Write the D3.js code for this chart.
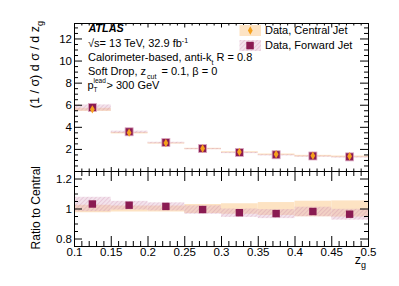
<!DOCTYPE html>
<html><head><meta charset="utf-8">
<script src="https://cdn.jsdelivr.net/npm/d3@7"></script>
<style>
body{margin:0;background:#fff;}
svg{display:block;font-family:"Liberation Sans",Arial,Helvetica,sans-serif;}
</style></head>
<body>
<script>
// ---- data ----
const binLow  = [0.10,0.15,0.20,0.25,0.30,0.35,0.40,0.45];
const binHigh = [0.15,0.20,0.25,0.30,0.35,0.40,0.45,0.50];
const centralValues = [5.58,3.47,2.54,2.04,1.73,1.52,1.39,1.33];
const forwardValues = [5.75,3.55,2.58,2.03,1.68,1.47,1.36,1.28];
const centralRelUnc = [0.025,0.020,0.020,0.030,0.035,0.043,0.052,0.054];
const forwardRatio  = [1.030,1.022,1.014,0.993,0.972,0.966,0.980,0.962];
const forwardRatioUnc = [0.048,0.029,0.027,0.028,0.028,0.030,0.032,0.036];
const mainYTicks = [2,4,6,8,10,12];
const ratioYTicks = [0.8,1,1.2];
const xTicks = [0.1,0.15,0.2,0.25,0.3,0.35,0.4,0.45,0.5];
const xTickLabels = ["0.1","0.15","0.2","0.25","0.3","0.35","0.4","0.45","0.5"];
const legendLabels = ["Data, Central Jet","Data, Forward Jet"];

const W=399,H=286;
const C_SQ="#8a1b52", C_DIA="#f5a11c", C_PEACH="#fde3c3";
const svg=d3.select("body").append("svg").attr("width",W).attr("height",H);
const defs=svg.append("defs");
const pat=defs.append("pattern").attr("id","hatch").attr("patternUnits","userSpaceOnUse")
  .attr("width",3).attr("height",3).attr("patternTransform","rotate(45)");
pat.append("rect").attr("width",3).attr("height",3).attr("fill","rgba(222,175,200,0.35)");
pat.append("line").attr("x1",0).attr("y1",0).attr("x2",0).attr("y2",3)
  .attr("stroke","rgba(195,115,155,0.45)").attr("stroke-width",1);

const x=d3.scaleLinear().domain([0.1,0.5]).range([74,368]);
const yM=d3.scaleLinear().domain([0,13.4]).range([171,23]);
const yR=d3.scaleLinear().domain([0.75,1.25]).range([246,171]);

const idx=d3.range(binLow.length);
const mid=i=>(binLow[i]+binHigh[i])/2;

// ---- main panel bands ----
const gM=svg.append("g");
gM.selectAll("rect.cb").data(idx).join("rect")
  .attr("x",i=>x(binLow[i])).attr("width",i=>x(binHigh[i])-x(binLow[i]))
  .attr("y",i=>yM(centralValues[i]*(1+centralRelUnc[i])))
  .attr("height",i=>Math.max(1.2,yM(centralValues[i]*(1-centralRelUnc[i]))-yM(centralValues[i]*(1+centralRelUnc[i]))))
  .attr("fill",C_PEACH);
gM.selectAll("rect.fb").data(idx).join("rect")
  .attr("x",i=>x(binLow[i])).attr("width",i=>x(binHigh[i])-x(binLow[i]))
  .attr("y",i=>yM(forwardValues[i]*(1+forwardRatioUnc[i])))
  .attr("height",i=>Math.max(1.2,yM(forwardValues[i]*(1-forwardRatioUnc[i]))-yM(forwardValues[i]*(1+forwardRatioUnc[i]))))
  .attr("fill","url(#hatch)");
// markers
gM.selectAll("rect.sq").data(idx).join("rect")
  .attr("x",i=>x(mid(i))-4).attr("y",i=>yM(forwardValues[i])-4)
  .attr("width",8).attr("height",8).attr("fill",C_SQ)
  .attr("stroke","#dba9c2").attr("stroke-width",0.8);
const diamond=(cx,cy)=>`M${cx},${cy-4.2}L${cx+2.4},${cy}L${cx},${cy+4.2}L${cx-2.4},${cy}Z`;
gM.selectAll("path.dia").data(idx).join("path")
  .attr("d",i=>diamond(x(mid(i)),yM(centralValues[i]))).attr("fill",C_DIA);

// ---- ratio panel ----
const gR=svg.append("g");
gR.selectAll("rect.cb").data(idx).join("rect")
  .attr("x",i=>x(binLow[i])).attr("width",i=>x(binHigh[i])-x(binLow[i]))
  .attr("y",i=>yR(1+centralRelUnc[i]))
  .attr("height",i=>yR(1-centralRelUnc[i])-yR(1+centralRelUnc[i]))
  .attr("fill",C_PEACH);
gR.selectAll("rect.fb").data(idx).join("rect")
  .attr("x",i=>x(binLow[i])).attr("width",i=>x(binHigh[i])-x(binLow[i]))
  .attr("y",i=>yR(forwardRatio[i]+forwardRatioUnc[i]))
  .attr("height",i=>yR(forwardRatio[i]-forwardRatioUnc[i])-yR(forwardRatio[i]+forwardRatioUnc[i]))
  .attr("fill","url(#hatch)");
gR.selectAll("rect.sq").data(idx).join("rect")
  .attr("x",i=>x(mid(i))-3.7).attr("y",i=>yR(forwardRatio[i])-3.7)
  .attr("width",7.4).attr("height",7.4).attr("fill",C_SQ);

// ---- axes ----
function styleAxis(g){g.selectAll("path.domain").attr("stroke","#000").attr("stroke-width",1);
  g.selectAll(".tick line").attr("stroke","#000");
  g.selectAll("text").attr("font-size",11.5).attr("fill","#000").attr("font-family","Liberation Sans, Arial, sans-serif");}
const mainMinorY=d3.range(0.5,13.4,0.5).filter(v=>!mainYTicks.includes(v));
const xMinor=d3.range(0.1,0.5001,0.01).map(v=>+v.toFixed(2)).filter(v=>!xTicks.some(t=>Math.abs(t-v)<1e-6));
const ratioMinorY=[0.75,0.85,0.9,0.95,1.05,1.1,1.15,1.25];

svg.append("g").attr("transform","translate(74,0)").call(d3.axisLeft(yM).tickValues(mainYTicks).tickSizeInner(-8).tickSizeOuter(0).tickPadding(2).tickFormat(d3.format("d"))).call(styleAxis);
svg.append("g").attr("transform","translate(74,0)").call(d3.axisLeft(yM).tickValues(mainMinorY).tickSizeInner(-4).tickSizeOuter(0).tickFormat("")).call(styleAxis);
svg.append("g").attr("transform","translate(368,0)").call(d3.axisRight(yM).tickValues(mainYTicks).tickSizeInner(-8).tickSizeOuter(0).tickFormat("")).call(styleAxis);
svg.append("g").attr("transform","translate(368,0)").call(d3.axisRight(yM).tickValues(mainMinorY).tickSizeInner(-4).tickSizeOuter(0).tickFormat("")).call(styleAxis);
svg.append("g").attr("transform","translate(0,23)").call(d3.axisTop(x).tickValues(xTicks).tickSizeInner(-4.5).tickSizeOuter(0).tickFormat("")).call(styleAxis);
svg.append("g").attr("transform","translate(0,23)").call(d3.axisTop(x).tickValues(xMinor).tickSizeInner(-2.5).tickSizeOuter(0).tickFormat("")).call(styleAxis);
svg.append("g").attr("transform","translate(0,171)").call(d3.axisBottom(x).tickValues(xTicks).tickSizeInner(-4).tickSizeOuter(0).tickFormat("")).call(styleAxis);
svg.append("g").attr("transform","translate(0,171)").call(d3.axisBottom(x).tickValues(xMinor).tickSizeInner(-2.5).tickSizeOuter(0).tickFormat("")).call(styleAxis);
svg.append("g").attr("transform","translate(0,171)").call(d3.axisTop(x).tickValues(xTicks).tickSizeInner(-10).tickSizeOuter(0).tickFormat("")).call(styleAxis);
svg.append("g").attr("transform","translate(0,171)").call(d3.axisTop(x).tickValues(xMinor).tickSizeInner(-5).tickSizeOuter(0).tickFormat("")).call(styleAxis);
svg.append("g").attr("transform","translate(74,0)").call(d3.axisLeft(yR).tickValues(ratioYTicks).tickSizeInner(-8).tickSizeOuter(0).tickPadding(2).tickFormat(d=>d===1?"1":d3.format(".1f")(d))).call(styleAxis);
svg.append("g").attr("transform","translate(74,0)").call(d3.axisLeft(yR).tickValues(ratioMinorY).tickSizeInner(-4).tickSizeOuter(0).tickFormat("")).call(styleAxis);
svg.append("g").attr("transform","translate(368,0)").call(d3.axisRight(yR).tickValues(ratioYTicks).tickSizeInner(-8).tickSizeOuter(0).tickFormat("")).call(styleAxis);
svg.append("g").attr("transform","translate(368,0)").call(d3.axisRight(yR).tickValues(ratioMinorY).tickSizeInner(-4).tickSizeOuter(0).tickFormat("")).call(styleAxis);
svg.append("g").attr("transform","translate(0,246)").call(d3.axisBottom(x).tickValues(xTicks).tickSizeInner(-10).tickSizeOuter(0).tickPadding(1.5).tickFormat((d,i)=>xTickLabels[i])).call(styleAxis);
svg.append("g").attr("transform","translate(0,246)").call(d3.axisBottom(x).tickValues(xMinor).tickSizeInner(-5).tickSizeOuter(0).tickFormat("")).call(styleAxis);

// ---- axis titles ----
const yt=svg.append("text").attr("transform","translate(39,21) rotate(-90)").attr("text-anchor","end")
  .attr("font-size",12.5);
yt.append("tspan").text("(1 / σ) d σ / d z");
yt.append("tspan").attr("font-size",9).attr("dy",4).text("g");
svg.append("text").attr("transform","translate(40,166) rotate(-90)").attr("text-anchor","end")
  .attr("font-size",12).text("Ratio to Central");
const xt=svg.append("text").attr("x",366).attr("y",264).attr("text-anchor","end").attr("font-size",12.5);
xt.append("tspan").text("z");
xt.append("tspan").attr("font-size",9).attr("dy",4).text("g");

// ---- annotations ----
svg.append("text").attr("x",88.5).attr("y",31.5).attr("font-size",10.8).attr("font-weight","bold")
  .attr("font-style","italic").text("ATLAS");
const t1=svg.append("text").attr("x",88).attr("y",46.5).attr("font-size",11);
t1.append("tspan").text("√s= 13 TeV, 32.9 fb");
t1.append("tspan").attr("font-size",7).attr("dy",-4).text("-1");
const t2=svg.append("text").attr("x",88).attr("y",61).attr("font-size",11);
t2.append("tspan").text("Calorimeter-based, anti-k");
t2.append("tspan").attr("font-size",7).attr("dy",3.5).text("t");
t2.append("tspan").attr("dy",-3.5).text(" R = 0.8");
const t3=svg.append("text").attr("x",88).attr("y",75.3).attr("font-size",11);
t3.append("tspan").text("Soft Drop, z");
t3.append("tspan").attr("font-size",7).attr("dy",3.5).attr("dx",1).text("cut");
t3.append("tspan").attr("dy",-3.5).attr("dx",2).text(" = 0.1, β = 0");
svg.append("text").attr("x",87.5).attr("y",88.5).attr("font-size",11).text("p");
svg.append("text").attr("x",93.5).attr("y",83).attr("font-size",6.5).text("lead");
svg.append("text").attr("x",93.5).attr("y",91.5).attr("font-size",6.5).text("T");
svg.append("text").attr("x",106.5).attr("y",88.5).attr("font-size",11).text("> 300 GeV");

// ---- legend ----
const lg=svg.append("g");
const legY=[25,40];
lg.append("rect").attr("x",239.5).attr("y",legY[0]).attr("width",21.5).attr("height",11).attr("fill",C_PEACH);
lg.append("path").attr("d",diamond(250.3,legY[0]+5.5)).attr("fill",C_DIA);
lg.append("rect").attr("x",239.5).attr("y",legY[1]).attr("width",21.5).attr("height",11).attr("fill","url(#hatch)");
lg.append("rect").attr("x",246.3).attr("y",legY[1]+1.8).attr("width",7.5).attr("height",7.5).attr("fill",C_SQ);
lg.selectAll("text").data(legendLabels).join("text")
  .attr("x",265).attr("y",(d,i)=>legY[i]+9).attr("font-size",11).text(d=>d);
</script>
</body></html>
